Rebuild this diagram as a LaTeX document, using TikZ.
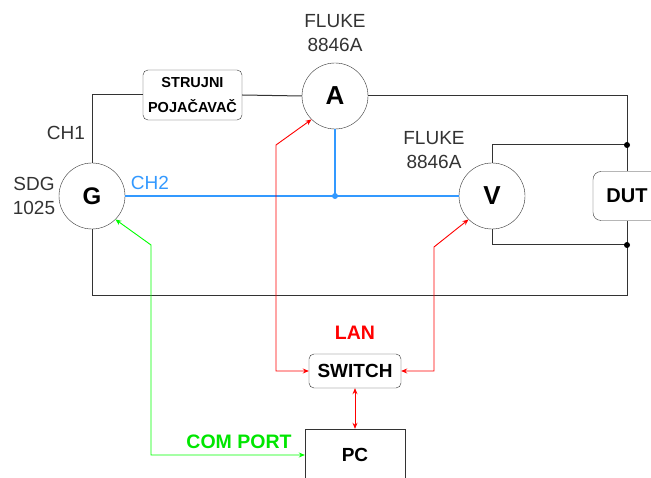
\documentclass[tikz,border=0pt]{standalone}
\usepackage{fontspec}
\setmainfont{Liberation Sans}
\usepackage{xcolor}
\definecolor{wiregray}{RGB}{51,51,51}
\definecolor{chblue}{RGB}{51,153,255}
\definecolor{lanred}{RGB}{255,0,0}
\definecolor{comgreen}{RGB}{0,255,0}
\definecolor{comtext}{RGB}{0,230,0}
\usetikzlibrary{arrows.meta,positioning,calc}

\begin{document}
\begin{tikzpicture}[x=1pt, y=-1pt,
  meter/.style={draw=wiregray, fill=white, circle, minimum size=66pt, inner sep=0pt,
                font=\fontsize{26}{30}\selectfont\bfseries},
  unit/.style={draw=wiregray, fill=white, inner sep=0pt,
               font=\fontsize{19}{24}\selectfont\bfseries},
  tag/.style={font=\fontsize{19}{24}\selectfont, align=center, text=wiregray},
  netlbl/.style={font=\fontsize{19.5}{24}\selectfont\bfseries},
  wire/.style={draw=wiregray, line width=1pt},
  ch2wire/.style={draw=chblue, line width=1.3pt},
  lanlink/.style={draw=lanred, line width=0.9pt, {Stealth[length=6pt,width=5pt]}-{Stealth[length=6pt,width=5pt]}},
  comlink/.style={draw=comgreen, line width=0.9pt, {Stealth[length=6pt,width=5pt]}-{Stealth[length=6pt,width=5pt]}},
  junction/.style={circle, fill=black, inner sep=0pt, minimum size=6pt}]

\useasboundingbox (0,0) rectangle (651,478);

% === Instruments ===
\node[meter, font=\fontsize{24}{28}\selectfont\bfseries] (G) at (92,196) {G};
\node[meter] (A) at (335,96) {A};
\node[meter] (V) at (492,196) {V};

\node[unit, rounded corners=5pt, minimum width=99pt, minimum height=50pt,
      font=\fontsize{14.5}{25}\selectfont\bfseries, align=center]
      (amp) at (192.5,95) {STRUJNI\\POJAČAVAČ};
\node[unit, rounded corners=8pt, minimum width=68pt, minimum height=49pt,
      font=\fontsize{20}{24}\selectfont\bfseries] (dut) at (627,196) {DUT};
\node[unit, rounded corners=5pt, minimum width=92pt, minimum height=34pt] (switch) at (355,371) {SWITCH};
\node[unit, minimum width=100pt, minimum height=52pt] (pc) at (355,455) {PC};

% === Labels ===
\node[tag] (flukeA) at (335,33) {FLUKE\\8846A};
\node[tag] (flukeV) at (434,150) {FLUKE\\8846A};
\node[tag] (ch1) at (66,133) {CH1};
\node[tag] (sdg) at (34,196) {SDG\\1025};
\node[tag, text=chblue] (ch2) at (150,183) {CH2};
\node[netlbl, text=lanred] (lan) at (355,333) {LAN};
\node[netlbl, text=comtext] (com) at (239,442) {COM PORT};

% === Measuring circuit ===
\coordinate (botR) at (627,296);
\coordinate (jTop) at (627,145);
\coordinate (jBot) at (627,245);
\draw[wire] (G.north) |- (amp.west);
\draw[wire] (amp.east) -- (A.west);
\draw[wire] (A.east) -| (dut.north);
\draw[wire] (G.south) |- (botR) -- (dut.south);
\draw[wire] (V.north) |- (jTop);
\draw[wire] (V.south) |- (jBot);
\node[junction] (dotTop) at (jTop) {};
\node[junction] (dotBot) at (jBot) {};

% === CH2 ===
\coordinate (jCh2) at (A.south |- G.east);
\draw[ch2wire] (G.east) -- (V.west);
\draw[ch2wire] (A.south) -- (jCh2);
\node[junction, fill=chblue] (dotCh2) at (jCh2) {};

% === LAN ===
\coordinate (lanA) at (276,145);
\coordinate (lanV) at (434,247);
\draw[lanlink] (A.south west) -- (lanA) |- (switch.west);
\draw[lanlink] (V.south west) -- (lanV) |- (switch.east);
\draw[lanlink] (switch.south) -- (pc.north);

% === COM port ===
\coordinate (comG) at (151,245);
\draw[comlink] (G.south east) -- (comG) |- (pc.west);

\end{tikzpicture}
\end{document}
